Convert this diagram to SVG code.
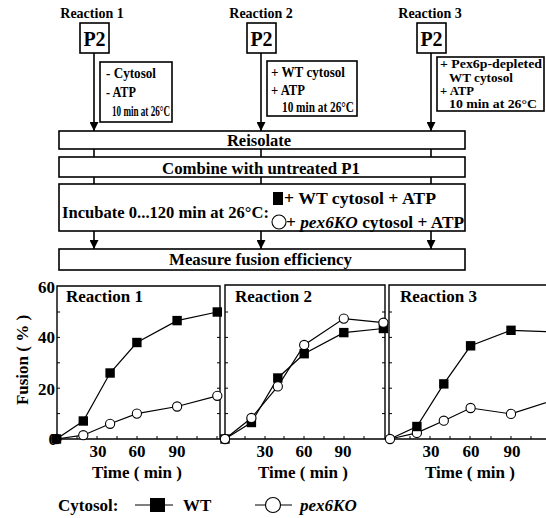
<svg xmlns="http://www.w3.org/2000/svg" width="546" height="518" viewBox="0 0 546 518">
<defs>
<style>
text{font-family:"Liberation Serif","Times New Roman",serif;font-weight:bold;fill:#000}
.box{fill:#fff;stroke:#000;stroke-width:1.6}
.ln{stroke:#000;stroke-width:1.6;fill:none}
.ax{stroke:#000;stroke-width:1.4;fill:none}
.tk{stroke:#000;stroke-width:1;fill:none}
.dl{stroke:#000;stroke-width:1.2;fill:none}
.sq{fill:#000}
.ci{fill:#fff;stroke:#000;stroke-width:1.1}
.t13{font-size:12.5px}
.t14{font-size:14px}
.t15{font-size:15px}
.t16{font-size:16.5px}
.t17{font-size:17px}
.c{text-anchor:middle}
.e{text-anchor:end}
</style>
<marker id="ah" viewBox="0 0 10 10" refX="10" refY="5" markerWidth="9" markerHeight="9" markerUnits="userSpaceOnUse" orient="auto">
<path d="M0,0 L10,5 L0,10 z" fill="#000"/>
</marker>
<rect id="s" x="-4.7" y="-4.7" width="9.4" height="9.4" fill="#000"/>
<circle id="o" r="4.6" fill="#fff" stroke="#000" stroke-width="1.1"/>
</defs>
<rect width="546" height="518" fill="#fff"/>

<g id="connectors">
<line class="ln" x1="94" y1="53" x2="94" y2="131" marker-end="url(#ah)"/>
<line class="ln" x1="261" y1="53" x2="261" y2="131" marker-end="url(#ah)"/>
<line class="ln" x1="431" y1="53" x2="431" y2="131" marker-end="url(#ah)"/>
<line class="ln" x1="94" y1="149" x2="94" y2="184"/>
<line class="ln" x1="261" y1="149" x2="261" y2="184"/>
<line class="ln" x1="431" y1="149" x2="431" y2="184"/>
<line class="ln" x1="94" y1="231" x2="94" y2="249" marker-end="url(#ah)"/>
<line class="ln" x1="261" y1="231" x2="261" y2="249" marker-end="url(#ah)"/>
<line class="ln" x1="431" y1="231" x2="431" y2="249" marker-end="url(#ah)"/>
</g>

<g id="reaction1-top">
<text class="t14 c" x="92" y="18">Reaction 1</text>
<rect class="box" x="80" y="23" width="29" height="30"/>
<text class="c" x="94.5" y="46" style="font-size:20px">P2</text>
</g>
<g id="reaction2-top">
<text class="t14 c" x="261" y="18">Reaction 2</text>
<rect class="box" x="247" y="23" width="29" height="30"/>
<text class="c" x="261.5" y="46" style="font-size:20px">P2</text>
</g>
<g id="reaction3-top">
<text class="t14 c" x="430" y="18">Reaction 3</text>
<rect class="box" x="417" y="23" width="29" height="30"/>
<text class="c" x="431.5" y="46" style="font-size:20px">P2</text>
</g>

<g id="cond1">
<rect class="box" x="100" y="62" width="72" height="60"/>
<text class="t15" x="106" y="78" textLength="50" lengthAdjust="spacingAndGlyphs">- Cytosol</text>
<text class="t15" x="106" y="97" textLength="30" lengthAdjust="spacingAndGlyphs">- ATP</text>
<text class="t15" x="112" y="116" textLength="58" lengthAdjust="spacingAndGlyphs">10 min at 26°C</text>
</g>
<g id="cond2">
<rect class="box" x="267" y="61" width="90" height="55"/>
<text class="t15" x="271" y="77" textLength="74" lengthAdjust="spacingAndGlyphs">+ WT cytosol</text>
<text class="t15" x="271" y="95" textLength="34" lengthAdjust="spacingAndGlyphs">+ ATP</text>
<text class="t15" x="282" y="112" textLength="72" lengthAdjust="spacingAndGlyphs">10 min at 26°C</text>
</g>
<g id="cond3">
<rect class="box" x="437" y="57" width="107" height="54"/>
<text class="t13" x="440" y="68" textLength="102" lengthAdjust="spacingAndGlyphs">+ Pex6p-depleted</text>
<text class="t13" x="449" y="81.5" textLength="64" lengthAdjust="spacingAndGlyphs">WT cytosol</text>
<text class="t13" x="440" y="95" textLength="34" lengthAdjust="spacingAndGlyphs">+ ATP</text>
<text class="t13" x="449" y="108" textLength="88" lengthAdjust="spacingAndGlyphs">10 min at 26°C</text>
</g>

<g id="reisolate">
<rect class="box" x="59" y="131" width="406" height="18"/>
<text class="t16 c" x="259" y="146">Reisolate</text>
</g>
<g id="combine">
<rect class="box" x="59" y="157" width="406" height="20"/>
<text class="t16" x="162" y="174" textLength="198" lengthAdjust="spacingAndGlyphs">Combine with untreated P1</text>
</g>
<g id="incubate">
<rect class="box" x="59" y="184" width="406" height="47"/>
<text class="t16" x="62" y="218" textLength="207" lengthAdjust="spacingAndGlyphs">Incubate 0...120 min at 26°C:</text>
<rect class="sq" x="273" y="192" width="10" height="13"/>
<text class="t16" x="284" y="204" textLength="152" lengthAdjust="spacingAndGlyphs">+ WT cytosol + ATP</text>
<circle class="ci" cx="279" cy="222" r="7"/>
<text class="t16" x="286" y="228" textLength="178" lengthAdjust="spacingAndGlyphs">+ <tspan font-style="italic">pex6KO</tspan> cytosol + ATP</text>
</g>
<g id="measure">
<rect class="box" x="59" y="249" width="406" height="21"/>
<text class="t16" x="169" y="265" textLength="183" lengthAdjust="spacingAndGlyphs">Measure fusion efficiency</text>
</g>

<g id="yaxis">
<text class="t17 c" transform="translate(28,360) rotate(-90)">Fusion ( % )</text>
<text class="t17 e" x="55" y="293">60</text>
<text class="t17 e" x="55" y="343">40</text>
<text class="t17 e" x="55" y="395">20</text>
<text class="t17 e" x="57" y="445">0</text>
</g>

<g id="chart1">
<path class="ax" d="M57,286 V439 H220 V286 Z"/>
<path class="tk" d="M77,439v-3M97,439v-3M117,439v-3M137,439v-3M157,439v-3M177,439v-3M197,439v-3M217,439v-3M220,413.6h-3M220,388.2h-3M220,362.8h-3M220,337.4h-3M220,312h-3M57,413.6h3M57,388.2h3M57,362.8h3M57,337.4h3M57,312h3"/>
<text class="t17" x="66" y="302">Reaction 1</text>
<polyline class="dl" points="56.5,439 83.3,435.2 110.1,423.8 136.9,413.6 177.1,406.5 217.3,395.8"/>
<polyline class="dl" points="56.5,439 83.3,421 110.1,373 136.9,342.5 177.1,320.6 217.3,312"/>
<use href="#o" x="56.5" y="439"/><use href="#o" x="83.3" y="435.2"/><use href="#o" x="110.1" y="423.8"/><use href="#o" x="136.9" y="413.6"/><use href="#o" x="177.1" y="406.5"/><use href="#o" x="217.3" y="395.8"/>
<use href="#s" x="56.5" y="439"/><use href="#s" x="83.3" y="421"/><use href="#s" x="110.1" y="373"/><use href="#s" x="136.9" y="342.5"/><use href="#s" x="177.1" y="320.6"/><use href="#s" x="217.3" y="312"/>
<text class="t17 c" x="98" y="457">30</text>
<text class="t17 c" x="137" y="457">60</text>
<text class="t17 c" x="177" y="457">90</text>
<text class="t17 c" x="137" y="478">Time ( min )</text>
</g>
<g id="chart2">
<path class="ax" d="M225,285 V439 H385 V285 Z"/>
<path class="tk" d="M245,439v-3M265,439v-3M284,439v-3M304,439v-3M324,439v-3M344,439v-3M364,439v-3M385,413.6h-3M385,388.2h-3M385,362.8h-3M385,337.4h-3M385,312h-3M225,413.6h3M225,388.2h3M225,362.8h3M225,337.4h3M225,312h3"/>
<text class="t17" x="235" y="302">Reaction 2</text>
<polyline class="dl" points="225,439 251.4,422.5 277.8,378 304.2,353.7 343.8,332.6 383.4,328.5"/>
<polyline class="dl" points="225,439 251.4,418 277.8,386.4 304.2,345 343.8,318.6 383.4,322.7"/>
<use href="#s" x="225" y="439"/><use href="#s" x="251.4" y="422.5"/><use href="#s" x="277.8" y="378"/><use href="#s" x="304.2" y="353.7"/><use href="#s" x="343.8" y="332.6"/><use href="#s" x="383.4" y="328.5"/>
<use href="#o" x="225" y="439"/><use href="#o" x="251.4" y="418"/><use href="#o" x="277.8" y="386.4"/><use href="#o" x="304.2" y="345"/><use href="#o" x="343.8" y="318.6"/><use href="#o" x="383.4" y="322.7"/>
<text class="t17 c" x="265" y="457">30</text>
<text class="t17 c" x="304" y="457">60</text>
<text class="t17 c" x="343" y="457">90</text>
<text class="t17 c" x="303" y="478">Time ( min )</text>
</g>
<g id="chart3">
<path class="ax" d="M546,285 H389 V439 H546"/>
<path class="tk" d="M410,439v-3M430,439v-3M450,439v-3M470,439v-3M491,439v-3M511,439v-3M531,439v-3M389,413.6h3M389,388.2h3M389,362.8h3M389,337.4h3M389,312h3"/>
<text class="t17" x="400" y="302">Reaction 3</text>
<polyline class="dl" points="390,439 416.9,426.5 443.8,383.9 470.6,345.8 511,330.3 551.3,331.8"/>
<polyline class="dl" points="390,439 416.9,432.9 443.8,420.7 470.6,408 511,413.9 551.3,400.9"/>
<use href="#o" x="390" y="439"/><use href="#o" x="416.9" y="432.9"/><use href="#o" x="443.8" y="420.7"/><use href="#o" x="470.6" y="408"/><use href="#o" x="511" y="413.9"/>
<use href="#s" x="416.9" y="426.5"/><use href="#s" x="443.8" y="383.9"/><use href="#s" x="470.6" y="345.8"/><use href="#s" x="511" y="330.3"/>
<text class="t17 c" x="431" y="457">30</text>
<text class="t17 c" x="471" y="457">60</text>
<text class="t17 c" x="512" y="457">90</text>
<text class="t17 c" x="470" y="478">Time ( min )</text>
</g>

<g id="legend">
<text class="t17" x="58" y="511">Cytosol:</text>
<line class="dl" x1="135" y1="505" x2="173" y2="505"/>
<rect class="sq" x="150" y="498" width="15" height="14"/>
<text class="t17" x="183" y="511">WT</text>
<line class="dl" x1="255" y1="505" x2="292" y2="505"/>
<circle class="ci" cx="273" cy="505" r="7.5"/>
<text class="t17" x="300" y="511" font-style="italic">pex6KO</text>
</g>
</svg>
